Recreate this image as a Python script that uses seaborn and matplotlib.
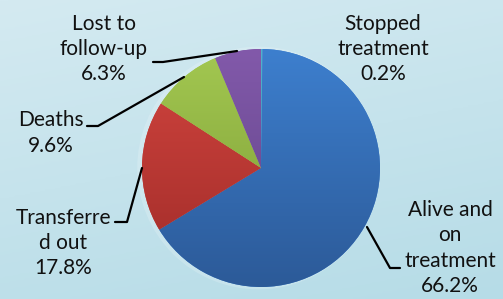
import numpy as np
import matplotlib
matplotlib.use("Agg")
from matplotlib import pyplot as plt
from matplotlib.colors import LinearSegmentedColormap
import seaborn as sns

# data (clockwise from 12 o'clock)
labels = ["Stopped\ntreatment", "Alive and\non\ntreatment", "Transferre\nd out", "Deaths", "Lost to\nfollow-up"]
values = [0.2, 66.2, 17.8, 9.6, 6.3]
pct_text = ["0.2%", "66.2%", "17.8%", "9.6%", "6.3%"]

top_cols = ["#4fb3cc", "#3d7fce", "#d2453f", "#a3c851", "#8259aa"]
bot_cols = ["#3f95ad", "#2c5a98", "#9f2b28", "#7a9933", "#5e4385"]

sns.set_theme(style="white")
plt.rcParams["font.family"] = ["Lato", "DejaVu Sans"]

W, H = 503, 299
fig = plt.figure(figsize=(W / 100, H / 100), dpi=100)

# background gradient
bg = fig.add_axes([0, 0, 1, 1])
bg_cmap = LinearSegmentedColormap.from_list("bg", ["#d4eaf1", "#b6dce7"])
yy, xx = np.mgrid[0:1:100j, 0:1:100j]
bg.imshow(0.75 * yy + 0.25 * xx, cmap=bg_cmap, aspect="auto", extent=[0, 1, 1, 0])
bg.set_axis_off()

# pie axes: center (261,168) px, radius 119 px
cx, cy, r = 261, 168, 119
ax = fig.add_axes([(cx - r) / W, (H - cy - r) / H, 2 * r / W, 2 * r / H])
ax.set_xlim(-1, 1)
ax.set_ylim(-1, 1)
ax.set_axis_off()

# soft halo behind pie (left side)
ax.add_patch(plt.Circle((-0.02, 0.0), 1.02, color="white", alpha=0.18, lw=0, clip_on=False))

wedges, _ = ax.pie(values, colors=top_cols, startangle=90, counterclock=False,
                   radius=1, wedgeprops=dict(linewidth=0))
ax.set_xlim(-1, 1)
ax.set_ylim(-1, 1)

grad = np.linspace(0, 1, 200)[:, None] * np.ones((1, 2))
for w, c1, c2 in zip(wedges, top_cols, bot_cols):
    cm = LinearSegmentedColormap.from_list("g", [c1, c2])
    im = ax.imshow(grad, cmap=cm, extent=[-1, 1, -1, 1], origin="upper", aspect="auto", zorder=2)
    im.set_clip_path(w)


def px(x, y):
    return ((x - cx) / r, (cy - y) / r)


# label positions (pixel centres) and leader lines
label_pos = [(383, 49), (450, 248), (63, 243), (51, 133), (104, 49)]
leaders = [None,
           [(367, 227), (390, 268), (400, 268)],
           [(115, 222), (127, 222), (142, 168)],
           [(87, 126), (98, 126), (184, 77)],
           [(153, 62), (163, 62), (237, 51)]]

for lab, pt, pos, ld in zip(labels, pct_text, label_pos, leaders):
    x, y = px(*pos)
    ax.text(x, y, lab + "\n" + pt, ha="center", va="center", fontsize=15,
            linespacing=1.32, color="#111111", clip_on=False, zorder=5)
    if ld is not None:
        pts = np.array([px(a, b) for a, b in ld])
        ax.plot(pts[:, 0], pts[:, 1], color="black", lw=1.6, clip_on=False, zorder=4)

fig.savefig("out.png", dpi=100)
